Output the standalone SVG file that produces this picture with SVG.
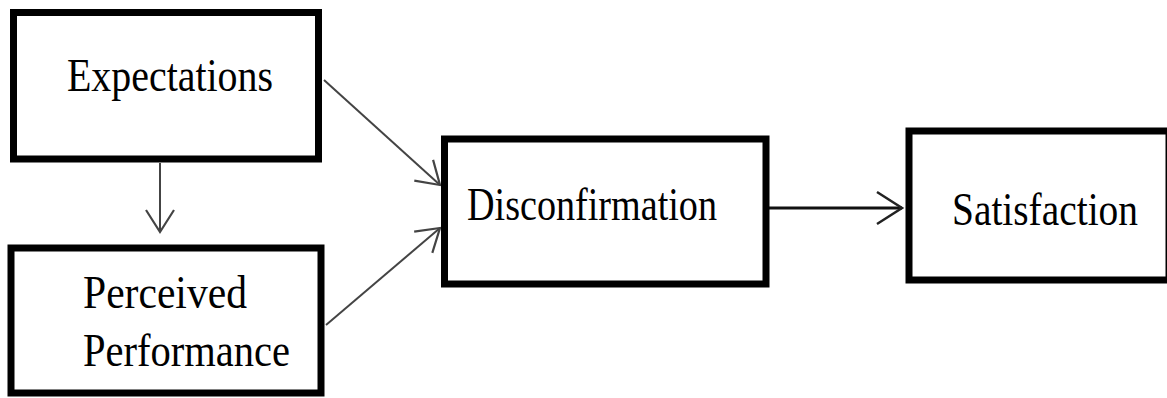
<svg xmlns="http://www.w3.org/2000/svg" width="1167" height="398" viewBox="0 0 1167 398">
<style>
.box{fill:#fff;stroke:#000;stroke-width:7}
.lbl{font-family:"Liberation Serif","Times New Roman",serif;font-size:46px;fill:#000}
.conn{stroke:#444;stroke-width:2;fill:none}
</style>
<defs>
<marker id="ah" markerUnits="userSpaceOnUse" markerWidth="40" markerHeight="40" viewBox="-30 -20 34 40" refX="0" refY="0" orient="auto">
<path d="M-22,-14 L0,0 L-22,14" fill="none" stroke="#444" stroke-width="2.2"/>
</marker>
<marker id="ah2" markerUnits="userSpaceOnUse" markerWidth="40" markerHeight="40" viewBox="-30 -20 34 40" refX="0" refY="0" orient="auto">
<path d="M-25,-16 L0,0 L-25,16" fill="none" stroke="#222" stroke-width="2.5"/>
</marker>
</defs>
<rect width="1167" height="398" fill="#fff"/>
<g id="connectors">
<line class="conn" x1="160" y1="163" x2="160" y2="232" marker-end="url(#ah)"/>
<line class="conn" x1="324" y1="80" x2="440" y2="185" marker-end="url(#ah)"/>
<line class="conn" x1="326" y1="325" x2="440" y2="228" marker-end="url(#ah)"/>
<line x1="769" y1="208" x2="902" y2="208" stroke="#111" stroke-width="3" marker-end="url(#ah2)"/>
</g>
<g id="expectations">
<rect class="box" x="13.5" y="12.5" width="305" height="146.5"/>
<text class="lbl" x="67" y="91" textLength="206" lengthAdjust="spacingAndGlyphs">Expectations</text>
</g>
<g id="perceived">
<rect class="box" x="11" y="248" width="310" height="145"/>
<text class="lbl" x="83" y="308" textLength="164" lengthAdjust="spacingAndGlyphs">Perceived</text>
<text class="lbl" x="83" y="366" textLength="207" lengthAdjust="spacingAndGlyphs">Performance</text>
</g>
<g id="disconfirmation">
<rect class="box" x="444.5" y="139" width="321.5" height="145"/>
<text class="lbl" x="467" y="220" textLength="250" lengthAdjust="spacingAndGlyphs">Disconfirmation</text>
</g>
<g id="satisfaction">
<rect class="box" x="909" y="131" width="260" height="149"/>
<text class="lbl" x="952" y="225" textLength="186" lengthAdjust="spacingAndGlyphs">Satisfaction</text>
</g>
</svg>
